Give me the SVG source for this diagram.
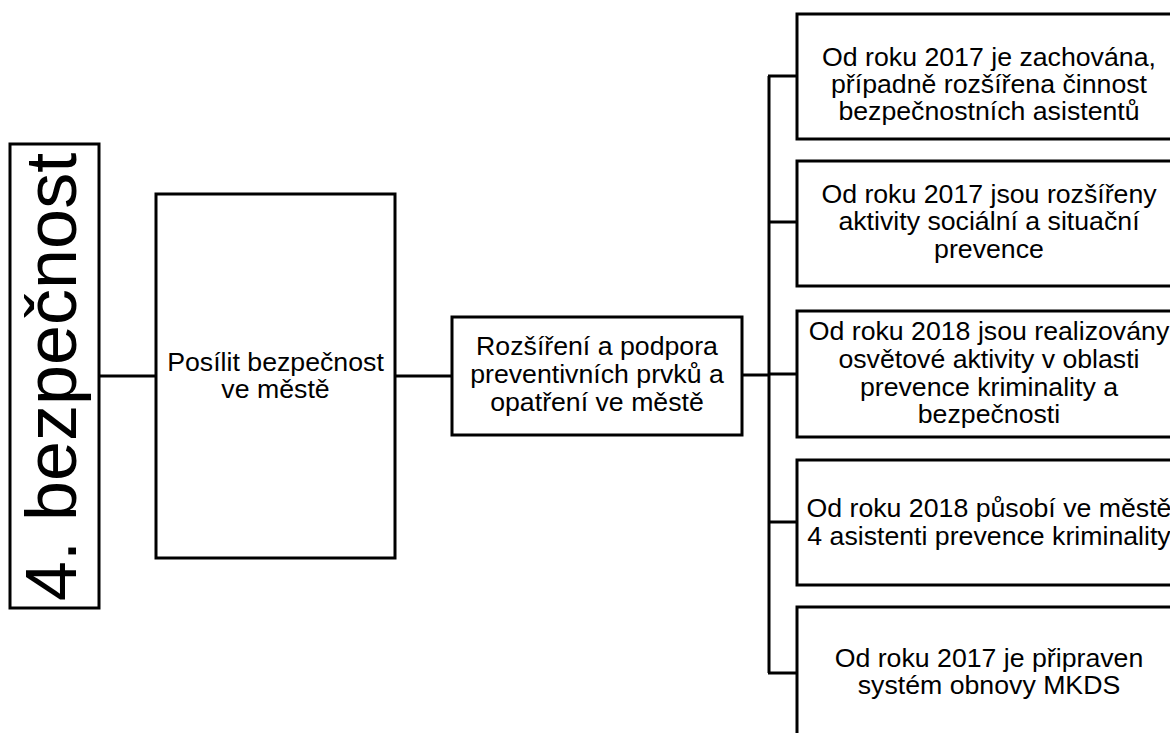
<svg xmlns="http://www.w3.org/2000/svg" width="1170" height="733" viewBox="0 0 1170 733">
<style>
.box{fill:#fff;stroke:#000;stroke-width:3}
.t{font-family:"Liberation Sans",Arial,sans-serif;font-size:26.7px;fill:#000;text-anchor:middle}
.big{font-family:"Liberation Sans",Arial,sans-serif;font-size:72px;fill:#000;text-anchor:middle}
.c{stroke:#000;stroke-width:3;fill:none}
</style>
<rect width="1170" height="733" fill="#fff"/>
<g id="connectors">
<line class="c" x1="99" y1="376" x2="156" y2="376"/>
<line class="c" x1="395" y1="376" x2="452" y2="376"/>
<line class="c" x1="742" y1="375" x2="769" y2="375"/>
<line class="c" x1="769" y1="76" x2="769" y2="673"/>
<line class="c" x1="768" y1="76" x2="797" y2="76"/>
<line class="c" x1="769" y1="222" x2="797" y2="222"/>
<line class="c" x1="769" y1="374" x2="797" y2="374"/>
<line class="c" x1="769" y1="522" x2="797" y2="522"/>
<line class="c" x1="768" y1="673" x2="797" y2="673"/>
</g>
<g id="n0">
<rect class="box" x="10" y="144" width="89" height="464"/>
<text class="big" transform="translate(76,377) rotate(-90)">4. bezpečnost</text>
</g>
<g id="n1">
<rect class="box" x="156" y="194" width="239" height="364"/>
<text class="t" x="275.5" y="371">Posílit bezpečnost</text>
<text class="t" x="275.5" y="398">ve městě</text>
</g>
<g id="n2">
<rect class="box" x="452" y="317" width="290" height="118"/>
<text class="t" x="597" y="355">Rozšíření a podpora</text>
<text class="t" x="597" y="383">preventivních prvků a</text>
<text class="t" x="597" y="411">opatření ve městě</text>
</g>
<g id="n3">
<rect class="box" x="797" y="14" width="384" height="125"/>
<text class="t" x="989" y="66">Od roku 2017 je zachována,</text>
<text class="t" x="989" y="93">případně rozšířena činnost</text>
<text class="t" x="989" y="120">bezpečnostních asistentů</text>
</g>
<g id="n4">
<rect class="box" x="797" y="161" width="384" height="125"/>
<text class="t" x="989" y="203">Od roku 2017 jsou rozšířeny</text>
<text class="t" x="989" y="230">aktivity sociální a situační</text>
<text class="t" x="989" y="258">prevence</text>
</g>
<g id="n5">
<rect class="box" x="797" y="311" width="384" height="126"/>
<text class="t" x="989" y="340">Od roku 2018 jsou realizovány</text>
<text class="t" x="989" y="368">osvětové aktivity v oblasti</text>
<text class="t" x="989" y="396">prevence kriminality a</text>
<text class="t" x="989" y="423">bezpečnosti</text>
</g>
<g id="n6">
<rect class="box" x="797" y="460" width="384" height="125"/>
<text class="t" x="989" y="517">Od roku 2018 působí ve městě</text>
<text class="t" x="989" y="545">4 asistenti prevence kriminality</text>
</g>
<g id="n7">
<rect class="box" x="797" y="607" width="384" height="140"/>
<text class="t" x="989" y="667">Od roku 2017 je připraven</text>
<text class="t" x="989" y="694">systém obnovy MKDS</text>
</g>
</svg>
